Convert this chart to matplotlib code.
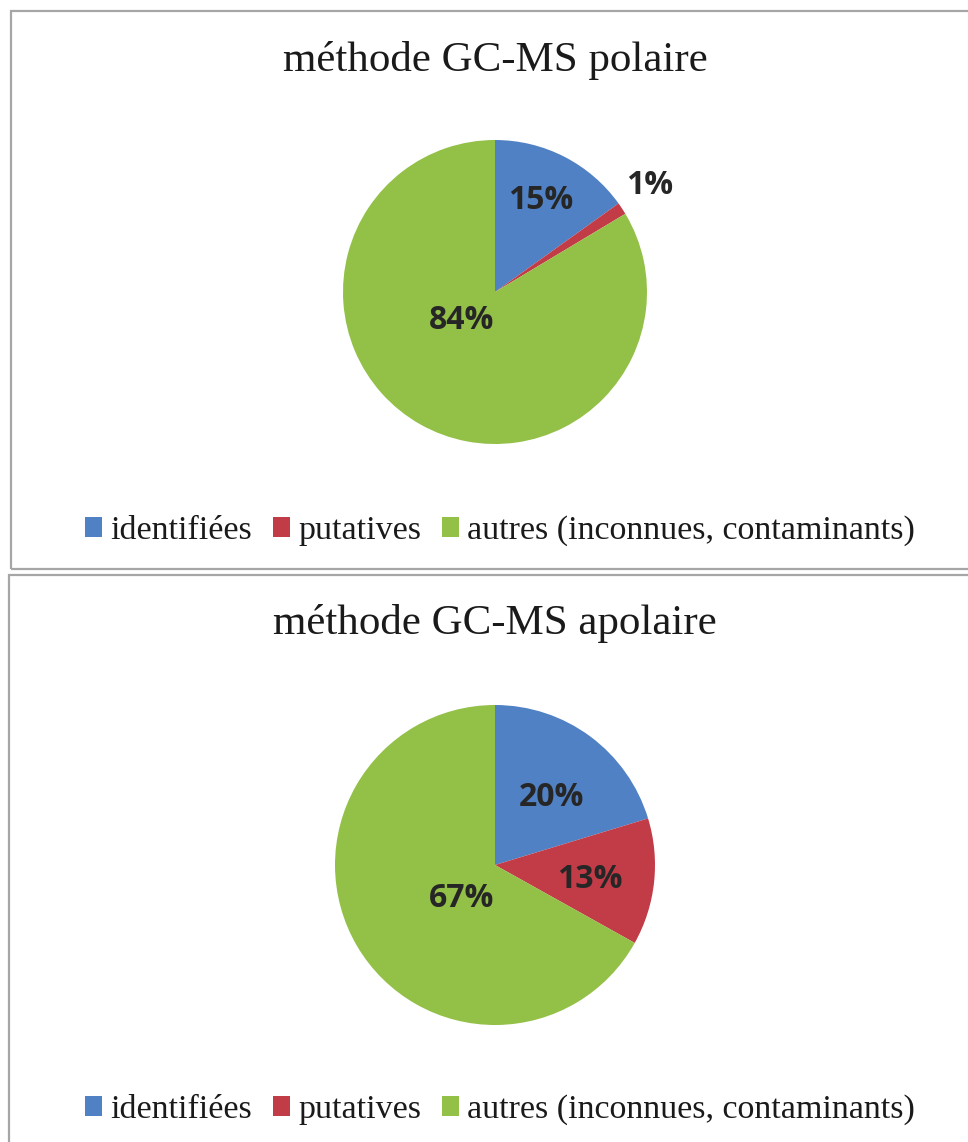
import matplotlib
matplotlib.use('Agg')
import matplotlib.pyplot as plt
from matplotlib.patches import Rectangle, Patch

# data
categories = ['identifiées', 'putatives', 'autres (inconnues, contaminants)']
titles = ['méthode GC-MS polaire', 'méthode GC-MS apolaire']
polaire = [15.1, 1.3, 83.6]
apolaire = [20.3, 12.8, 66.9]
colors = ['#5081C4', '#C23C48', '#93C047']

# where Excel put the percent labels (in units of the pie radius)
label_pos_top = [(0.30, 0.60), (1.02, 0.70), (-0.22, -0.19)]
label_pos_bot = [(0.35, 0.42), (0.59, -0.09), (-0.21, -0.21)]

W, H = 968, 1142
fig = plt.figure(figsize=(W / 100, H / 100), dpi=100)
serif = ['Liberation Serif', 'DejaVu Serif']


def px_axes(x0, y0, w, h):
    # pixel box (from top-left) -> figure fraction
    return fig.add_axes([x0 / W, 1 - (y0 + h) / H, w / W, h / H])


# panel frames
for (x0, y0, x1, y1) in [(11, 11, 975, 569), (9, 575, 975, 1150)]:
    fig.patches.append(Rectangle((x0 / W, 1 - y1 / H), (x1 - x0) / W, (y1 - y0) / H,
                                 transform=fig.transFigure, fill=False,
                                 edgecolor='#a6a6a6', linewidth=1.6))


def draw_pie(values, title, box, label_pos, title_y, legend_y):
    ax = px_axes(*box)
    ax.pie(values, colors=colors, startangle=90, counterclock=False,
           wedgeprops=dict(linewidth=0))
    ax.set_xlim(-1, 1)
    ax.set_ylim(-1, 1)
    ax.set_aspect('equal')
    ax.axis('off')
    total = sum(values)
    for v, (lx, ly) in zip(values, label_pos):
        ax.text(lx, ly, '%d%%' % round(100 * v / total), ha='center', va='center',
                fontsize=23, fontweight='bold', color='#262626',
                family=['Open Sans', 'DejaVu Sans'])
    fig.text(495 / W, 1 - title_y / H, title, ha='center', va='center',
             fontsize=31, color='#1a1a1a', family=serif)
    handles = [Patch(facecolor=c, edgecolor='none') for c in colors]
    fig.legend(handles, categories, loc='center', ncol=3,
               bbox_to_anchor=(500 / W, 1 - legend_y / H), frameon=False,
               prop=dict(family=serif, size=24.5), handlelength=0.5, handleheight=0.5,
               handletextpad=0.25, columnspacing=0.6, labelcolor='#1a1a1a')


draw_pie(polaire, titles[0], (343, 140, 304, 304), label_pos_top, 61, 531)
draw_pie(apolaire, titles[1], (335, 705, 320, 320), label_pos_bot, 624, 1110)

fig.savefig('out.png', dpi=100)
